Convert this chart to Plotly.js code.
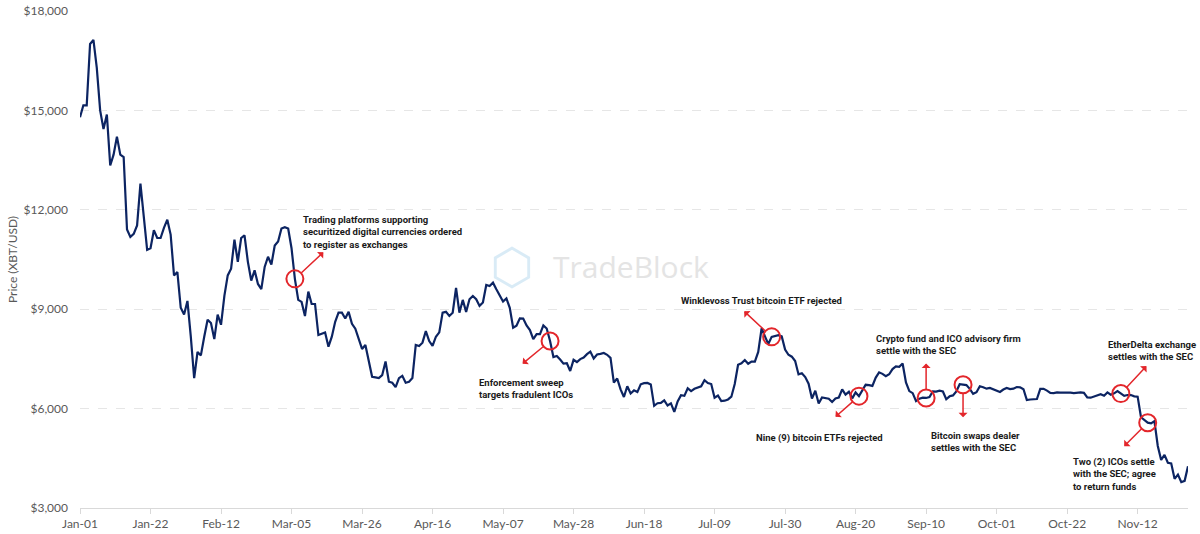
<!DOCTYPE html>
<html>
<head>
<meta charset="utf-8">
<script src="https://cdn.plot.ly/plotly-3.0.1.min.js"></script>
<style>
  body { margin: 0; background: #fff; }
  #chart { width: 1200px; height: 534px; }
</style>
</head>
<body>
<div id="chart"></div>
<script>
// daily XBT/USD closing price, 2018, one array per month
var jan = [14795, 15154, 15154, 17003, 17126, 16284, 15000, 14435, 14877, 13336, 13665, 14209, 13665, 13593, 11405, 11179, 11272, 11529, 12792, 11816, 10789, 10840, 11385, 11149, 11149, 11457, 11703, 11251, 10019, 10122, 9043]
var feb = [8838, 9249, 8170, 6917, 7708, 7605, 8170, 8684, 8581, 8098, 8838, 8530, 9403, 10019, 10224, 11097, 10430, 11149, 11231, 10430, 9865, 10173, 9762, 9608, 10276, 10584, 10348, 10923]
var mar = [11046, 11436, 11477, 11436, 10840, 9916, 9280, 9220, 8795, 9530, 9157, 9157, 8220, 8270, 8300, 7870, 8170, 8620, 8895, 8895, 8720, 8920, 8560, 8410, 8110, 7800, 7920, 7385, 6960, 6940, 6920]
var apr = [7010, 7420, 6810, 6780, 6650, 6920, 6990, 6780, 6810, 6920, 7920, 7890, 7990, 8340, 8040, 7890, 8170, 8300, 8895, 8920, 8795, 8895, 9640, 8895, 9280, 8920, 9300, 9400, 9300, 9100]
var may = [9200, 9730, 9700, 9800, 9600, 9400, 9234, 9325, 9043, 8441, 8504, 8723, 8716, 8510, 8368, 8094, 8250, 8247, 8513, 8418, 8041, 7557, 7587, 7480, 7355, 7368, 7135, 7472, 7406, 7494, 7541]
var jun = [7643, 7720, 7514, 7633, 7653, 7678, 7624, 7531, 6786, 6906, 6582, 6349, 6675, 6457, 6550, 6499, 6734, 6769, 6776, 6729, 6083, 6162, 6173, 6249, 6094, 6157, 5903, 6218, 6404, 6385]
var jul = [6614, 6529, 6597, 6639, 6673, 6856, 6773, 6741, 6329, 6394, 6228, 6238, 6276, 6360, 6741, 7321, 7370, 7466, 7354, 7419, 7418, 7711, 8424, 8181, 7951, 8165, 8192, 8218, 8180, 7780, 7625]
var aug = [7567, 7434, 7032, 7068, 6951, 6753, 6306, 6539, 6153, 6335, 6322, 6298, 6200, 6308, 6334, 6581, 6423, 6507, 6309, 6488, 6376, 6534, 6719, 6710, 6685, 6937, 7096, 7048, 6978, 7037, 7193]
var sep = [7273, 7261, 7361, 6793, 6529, 6467, 6225, 6300, 6329, 6321, 6351, 6517, 6512, 6543, 6517, 6281, 6371, 6398, 6519, 6734, 6721, 6710, 6595, 6446, 6495, 6676, 6644, 6601, 6625, 6589]
var oct = [6556, 6502, 6576, 6622, 6588, 6603, 6652, 6642, 6585, 6257, 6274, 6285, 6290, 6596, 6596, 6544, 6476, 6465, 6489, 6482, 6487, 6476, 6484, 6469, 6480, 6487, 6475, 6337, 6330, 6371, 6410]
var nov = [6433, 6387, 6487, 6419, 6461, 6530, 6453, 6385, 6409, 6411, 6371, 6360, 5738, 5648, 5575, 5554, 5623, 4871, 4451, 4602, 4365, 4347, 3880, 4009, 3779, 3820, 4258]

var startDate = '2018-01-01'

// x axis labels, every three weeks
var tickDates = ['2018-01-01', '2018-01-22', '2018-02-12', '2018-03-05', '2018-03-26', '2018-04-16', '2018-05-07',
  '2018-05-28', '2018-06-18', '2018-07-09', '2018-07-30', '2018-08-20', '2018-09-10', '2018-10-01', '2018-10-22', '2018-11-12']
var tickLabels = ['Jan-01', 'Jan-22', 'Feb-12', 'Mar-05', 'Mar-26', 'Apr-16', 'May-07', 'May-28',
  'Jun-18', 'Jul-09', 'Jul-30', 'Aug-20', 'Sep-10', 'Oct-01', 'Oct-22', 'Nov-12']

// SEC events marked on the line
var eventDates = ['2018-03-06', '2018-05-21', '2018-07-26', '2018-08-21', '2018-09-10', '2018-09-21', '2018-11-07', '2018-11-15']
var eventLabels = [
  'Trading platforms supporting<br>securitized digital currencies ordered<br>to register as exchanges',
  'Enforcement sweep<br>targets fradulent ICOs',
  'Winklevoss Trust bitcoin ETF rejected',
  'Nine (9) bitcoin ETFs rejected',
  'Crypto fund and ICO advisory firm<br>settle with the SEC',
  'Bitcoin swaps dealer<br>settles with the SEC',
  'EtherDelta exchange<br>settles with the SEC',
  'Two (2) ICOs settle<br>with the SEC; agree<br>to return funds'
]

// where each arrow points (px from the circle) and where its label sits
var arrowDx = [30, -29, -29, -25, 0, 0, 27, -25]
var arrowDy = [-28, 24, -27, 22, -36, 34, -29, 25]
var labelDx = [6, -73, -93, -105, -52, -34, -15, -77]
var labelDy = [67, -34, 44, -34, 67, -43, 57, -31]

var prices = [].concat(jan, feb, mar, apr, may, jun, jul, aug, sep, oct, nov)

function dayString(i) {
  var d = new Date(startDate + 'T00:00:00Z')
  d.setUTCDate(d.getUTCDate() + i)
  return d.toISOString().slice(0, 10)
}

var dates = []
for (i = 0; i < prices.length; i++) {
  dates.push(dayString(i))
}

var eventPrices = eventDates.map(function (d) { return prices[dates.indexOf(d)] })

var navy = '#0c2462'
var red = '#e3262b'
var grey = '#595959'

var lineTrace = {
  x: dates,
  y: prices,
  type: 'scatter',
  mode: 'lines',
  line: { color: navy, width: 2.2 },
  hoverinfo: 'skip'
}

var circleTrace = {
  x: eventDates,
  y: eventPrices,
  type: 'scatter',
  mode: 'markers',
  marker: { symbol: 'circle-open', size: 17, color: red, line: { color: red, width: 2 } },
  cliponaxis: false,
  hoverinfo: 'skip'
}

var annotations = []
for (i = 0; i < eventDates.length; i++) {
  // arrow leaving the circle, head at the far end
  annotations.push({
    x: eventDates[i], y: eventPrices[i], xref: 'x', yref: 'y',
    text: '', showarrow: true, arrowside: 'start',
    ax: arrowDx[i], ay: arrowDy[i],
    arrowcolor: red, arrowwidth: 1.5, arrowhead: 2, arrowsize: 1.1,
    standoff: 9
  })
  annotations.push({
    x: eventDates[i], y: eventPrices[i], xref: 'x', yref: 'y',
    text: '<b>' + eventLabels[i] + '</b>', showarrow: false,
    xanchor: 'left', yanchor: 'top', align: 'left',
    xshift: labelDx[i], yshift: labelDy[i],
    font: { family: 'Roboto, sans-serif', size: 9.5, color: '#1a1a1a' }
  })
}

// watermark
annotations.push({
  xref: 'paper', yref: 'paper', x: 0.39, y: 0.485, text: '\u2B21', showarrow: false,
  font: { family: 'DejaVu Sans', size: 50, color: '#d9ebf6' }
})
annotations.push({
  xref: 'paper', yref: 'paper', x: 0.497, y: 0.485, text: 'TradeBlock', showarrow: false,
  font: { family: 'Open Sans, sans-serif', size: 30, color: '#e4e4e4' }
})

var layout = {
  width: 1200,
  height: 534,
  margin: { l: 80, r: 12, t: 11, b: 26 },
  paper_bgcolor: '#ffffff',
  plot_bgcolor: '#ffffff',
  showlegend: false,
  font: { family: 'Lato, sans-serif', color: grey },
  xaxis: {
    type: 'date',
    range: [dates[0], dates[dates.length - 1]],
    tickvals: tickDates,
    ticktext: tickLabels,
    showgrid: false,
    showline: true,
    linecolor: '#d9d9d9',
    linewidth: 1,
    ticks: 'outside',
    ticklen: 5,
    tickcolor: '#d9d9d9',
    tickfont: { size: 12, color: grey },
    zeroline: false
  },
  yaxis: {
    title: { text: 'Price (XBT/USD)', font: { size: 12, color: grey }, standoff: 3 },
    range: [3000, 18000],
    dtick: 3000,
    tickprefix: '$',
    tickformat: ',d',
    tickfont: { size: 12, color: grey },
    showgrid: true,
    gridcolor: '#e6e6e6',
    griddash: 'dash',
    zeroline: false,
    showline: false,
    ticks: '',
    ticklabelstandoff: 11
  },
  annotations: annotations
}

Plotly.newPlot('chart', [lineTrace, circleTrace], layout, { displayModeBar: false, staticPlot: true })
</script>
</body>
</html>
